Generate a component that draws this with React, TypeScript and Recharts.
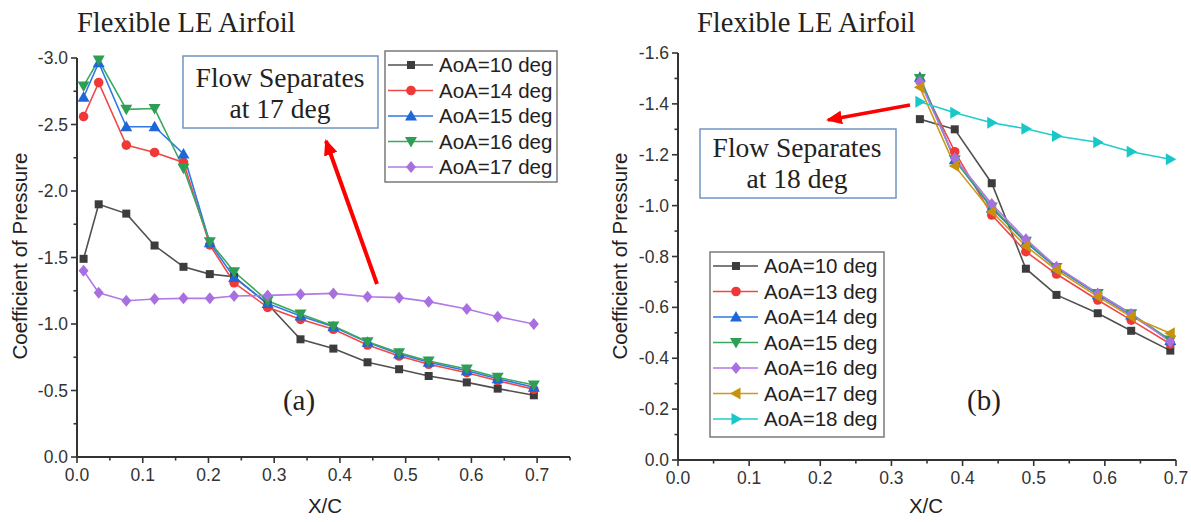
import React from 'react';
import { LineChart, Line, XAxis, YAxis } from 'recharts';

// ---- panel (a) ----
const xLeft = [0.01, 0.033, 0.075, 0.118, 0.162, 0.202, 0.239, 0.29, 0.34, 0.39, 0.442, 0.49, 0.535, 0.593, 0.64, 0.695];
const cpL10 = [-1.49, -1.9, -1.83, -1.59, -1.43, -1.375, -1.355, -1.15, -0.885, -0.815, -0.712, -0.66, -0.609, -0.561, -0.514, -0.464];
const cpL14 = [-2.56, -2.815, -2.345, -2.29, -2.215, -1.595, -1.31, -1.125, -1.035, -0.96, -0.842, -0.759, -0.697, -0.634, -0.574, -0.509];
const cpL15 = [-2.705, -2.965, -2.483, -2.483, -2.278, -1.611, -1.35, -1.155, -1.06, -0.98, -0.862, -0.774, -0.712, -0.649, -0.589, -0.524];
const cpL16 = [-2.79, -2.985, -2.614, -2.62, -2.171, -1.619, -1.393, -1.175, -1.075, -0.985, -0.867, -0.784, -0.722, -0.662, -0.599, -0.541];
const cpL17 = [-1.4, -1.235, -1.175, -1.188, -1.193, -1.193, -1.21, -1.215, -1.223, -1.23, -1.205, -1.198, -1.168, -1.113, -1.055, -1.0];

// ---- panel (b) ----
const xRight = [0.34, 0.389, 0.441, 0.489, 0.532, 0.59, 0.637, 0.692];
const cpR10 = [-1.34, -1.3, -1.088, -0.752, -0.649, -0.577, -0.508, -0.43];
const cpR13 = [-1.49, -1.212, -0.963, -0.819, -0.731, -0.629, -0.55, -0.456];
const cpR14 = [-1.505, -1.18, -0.99, -0.855, -0.755, -0.65, -0.57, -0.47];
const cpR15 = [-1.5, -1.18, -0.995, -0.86, -0.757, -0.655, -0.575, -0.472];
const cpR16 = [-1.487, -1.186, -1.006, -0.868, -0.76, -0.655, -0.574, -0.465];
const cpR17 = [-1.465, -1.156, -0.976, -0.841, -0.747, -0.642, -0.563, -0.498];
const cpR18 = [-1.408, -1.365, -1.326, -1.302, -1.274, -1.249, -1.212, -1.182];

// ticks (majors labelled, the rest are minor ticks)
const xTicksLeft = [0, 0.05, 0.1, 0.15, 0.2, 0.25, 0.3, 0.35, 0.4, 0.45, 0.5, 0.55, 0.6, 0.65, 0.7, 0.75];
const xTicksRight = [0, 0.05, 0.1, 0.15, 0.2, 0.25, 0.3, 0.35, 0.4, 0.45, 0.5, 0.55, 0.6, 0.65, 0.7];
const xMajors = [0, 0.1, 0.2, 0.3, 0.4, 0.5, 0.6, 0.7];
const yTicksLeft = [-3, -2.75, -2.5, -2.25, -2, -1.75, -1.5, -1.25, -1, -0.75, -0.5, -0.25, 0];
const yMajorsLeft = [-3, -2.5, -2, -1.5, -1, -0.5, 0];
const yTicksRight = [-1.6, -1.5, -1.4, -1.3, -1.2, -1.1, -1, -0.9, -0.8, -0.7, -0.6, -0.5, -0.4, -0.3, -0.2, -0.1, 0];
const yMajorsRight = [-1.6, -1.4, -1.2, -1, -0.8, -0.6, -0.4, -0.2, 0];

const seriesLeft = [
  { key: 'a10', name: 'AoA=10 deg', vals: cpL10, color: '#505050', fill: '#3c3c3c', shape: 'square' },
  { key: 'a14', name: 'AoA=14 deg', vals: cpL14, color: '#f04848', fill: '#f03838', shape: 'circle' },
  { key: 'a15', name: 'AoA=15 deg', vals: cpL15, color: '#2f78e6', fill: '#1f66d8', shape: 'up' },
  { key: 'a16', name: 'AoA=16 deg', vals: cpL16, color: '#3aa860', fill: '#2e9e55', shape: 'down' },
  { key: 'a17', name: 'AoA=17 deg', vals: cpL17, color: '#b27ae6', fill: '#a86fe0', shape: 'diamond' },
];

const seriesRight = [
  { key: 'b10', name: 'AoA=10 deg', vals: cpR10, color: '#505050', fill: '#3c3c3c', shape: 'square' },
  { key: 'b13', name: 'AoA=13 deg', vals: cpR13, color: '#f04848', fill: '#f03838', shape: 'circle' },
  { key: 'b14', name: 'AoA=14 deg', vals: cpR14, color: '#2f78e6', fill: '#1f66d8', shape: 'up' },
  { key: 'b15', name: 'AoA=15 deg', vals: cpR15, color: '#3aa860', fill: '#2e9e55', shape: 'down' },
  { key: 'b16', name: 'AoA=16 deg', vals: cpR16, color: '#b27ae6', fill: '#a86fe0', shape: 'diamond' },
  { key: 'b17', name: 'AoA=17 deg', vals: cpR17, color: '#cc9a1a', fill: '#c8920c', shape: 'left' },
  { key: 'b18', name: 'AoA=18 deg', vals: cpR18, color: '#22cccc', fill: '#18c8c8', shape: 'right' },
];

const dataLeft = xLeft.map((x, i) => {
  const row: any = { x };
  seriesLeft.forEach((s) => (row[s.key] = s.vals[i]));
  return row;
});
const dataRight = xRight.map((x, i) => {
  const row: any = { x };
  seriesRight.forEach((s) => (row[s.key] = s.vals[i]));
  return row;
});

const SANS = '"Liberation Sans", Arial, sans-serif';
const SERIF = '"Liberation Serif", "Times New Roman", serif';
const AXIS = '#333';

const Marker = ({ cx, cy, shape, fill }: any) => {
  const s = 5;
  switch (shape) {
    case 'square':
      return <rect x={cx - 4} y={cy - 4} width={8} height={8} fill={fill} />;
    case 'circle':
      return <circle cx={cx} cy={cy} r={4.8} fill={fill} />;
    case 'up':
      return <polygon points={`${cx},${cy - 6} ${cx - 6},${cy + 4.5} ${cx + 6},${cy + 4.5}`} fill={fill} />;
    case 'down':
      return <polygon points={`${cx},${cy + 6} ${cx - 6},${cy - 4.5} ${cx + 6},${cy - 4.5}`} fill={fill} />;
    case 'diamond':
      return <polygon points={`${cx},${cy - 6} ${cx + s},${cy} ${cx},${cy + 6} ${cx - s},${cy}`} fill={fill} />;
    case 'left':
      return <polygon points={`${cx - 6},${cy} ${cx + 4.5},${cy - 6} ${cx + 4.5},${cy + 6}`} fill={fill} />;
    case 'right':
      return <polygon points={`${cx + 6},${cy} ${cx - 4.5},${cy - 6} ${cx - 4.5},${cy + 6}`} fill={fill} />;
    default:
      return null;
  }
};

const makeDot = (shape: string, fill: string) => (p: any) => (
  <Marker key={`dot-${shape}-${p.index}`} cx={p.cx} cy={p.cy} shape={shape} fill={fill} />
);

const isIn = (v: number, list: number[]) => list.some((m) => Math.abs(m - v) < 1e-6);

const makeXTick = (majors: number[]) => (props: any) => {
  const { x, y, payload } = props;
  const major = isIn(payload.value, majors);
  return (
    <g>
      <line x1={x} y1={y} x2={x} y2={y + (major ? 6 : 3.5)} stroke={AXIS} strokeWidth={1.6} />
      {major && (
        <text x={x} y={y + 24} textAnchor="middle" fontSize={17.5} fill="#333" fontFamily={SANS}>
          {payload.value.toFixed(1)}
        </text>
      )}
    </g>
  );
};

const makeYTick = (majors: number[]) => (props: any) => {
  const { x, y, payload } = props;
  const major = isIn(payload.value, majors);
  return (
    <g>
      <line x1={x} y1={y} x2={x - (major ? 6 : 3.5)} y2={y} stroke={AXIS} strokeWidth={1.6} />
      {major && (
        <text x={x - 9} y={y + 6} textAnchor="end" fontSize={17.5} fill="#333" fontFamily={SANS}>
          {payload.value.toFixed(1)}
        </text>
      )}
    </g>
  );
};

const LegendBox = ({ x, y, w, h, series }: any) => (
  <g>
    <rect x={x} y={y} width={w} height={h} fill="#fff" stroke="#7a7a7a" strokeWidth={1.5} />
    {series.map((s: any, i: number) => {
      const cy = y + 14 + i * 25.5;
      return (
        <g key={s.key}>
          <line x1={x + 3} y1={cy} x2={x + 48} y2={cy} stroke={s.color} strokeWidth={1.6} />
          <Marker cx={x + 26} cy={cy} shape={s.shape} fill={s.fill} />
          <text x={x + 54} y={cy + 7} fontSize={20.5} fontFamily={SANS} fill="#222">
            {s.name}
          </text>
        </g>
      );
    })}
  </g>
);

const App: React.FC = () => {
  return (
    <div style={{ position: 'absolute', left: 0, top: 0, width: 1191, height: 522, background: '#fff' }}>
      <div style={{ position: 'absolute', left: 0, top: 0 }}>
        <LineChart width={600} height={522} data={dataLeft} margin={{ top: 58, right: 30, left: 17, bottom: 35 }}>
          <XAxis
            dataKey="x"
            type="number"
            domain={[0, 0.75]}
            ticks={xTicksLeft}
            interval={0}
            tickSize={0}
            tickMargin={0}
            tickLine={false}
            height={30}
            axisLine={{ stroke: AXIS, strokeWidth: 2 }}
            tick={makeXTick(xMajors)}
          />
          <YAxis
            type="number"
            domain={[-3, 0]}
            reversed
            ticks={yTicksLeft}
            interval={0}
            tickSize={0}
            tickMargin={0}
            tickLine={false}
            width={60}
            axisLine={{ stroke: AXIS, strokeWidth: 2 }}
            tick={makeYTick(yMajorsLeft)}
          />
          {seriesLeft.map((s) => (
            <Line
              key={s.key}
              dataKey={s.key}
              name={s.name}
              type="linear"
              stroke={s.color}
              strokeWidth={1.6}
              dot={makeDot(s.shape, s.fill)}
              activeDot={false}
              isAnimationActive={false}
            />
          ))}
        </LineChart>
      </div>
      <div style={{ position: 'absolute', left: 600, top: 0 }}>
        <LineChart width={591} height={522} data={dataRight} margin={{ top: 53, right: 15, left: 18, bottom: 32 }}>
          <XAxis
            dataKey="x"
            type="number"
            domain={[0, 0.7]}
            ticks={xTicksRight}
            interval={0}
            tickSize={0}
            tickMargin={0}
            tickLine={false}
            height={30}
            axisLine={{ stroke: AXIS, strokeWidth: 2 }}
            tick={makeXTick(xMajors)}
          />
          <YAxis
            type="number"
            domain={[-1.6, 0]}
            reversed
            ticks={yTicksRight}
            interval={0}
            tickSize={0}
            tickMargin={0}
            tickLine={false}
            width={60}
            axisLine={{ stroke: AXIS, strokeWidth: 2 }}
            tick={makeYTick(yMajorsRight)}
          />
          {seriesRight.map((s) => (
            <Line
              key={s.key}
              dataKey={s.key}
              name={s.name}
              type="linear"
              stroke={s.color}
              strokeWidth={1.6}
              dot={makeDot(s.shape, s.fill)}
              activeDot={false}
              isAnimationActive={false}
            />
          ))}
        </LineChart>
      </div>

      <svg width={1191} height={522} style={{ position: 'absolute', left: 0, top: 0, pointerEvents: 'none' }}>
        <defs>
          <marker id="arrowHead" markerWidth={16} markerHeight={14} refX={14} refY={7} orient="auto" markerUnits="userSpaceOnUse">
            <polygon points="0,0 16,7 0,14" fill="#ff0000" />
          </marker>
        </defs>

        {/* titles */}
        <text x={77} y={32} fontSize={28.5} fontFamily={SERIF} fill="#222">Flexible LE Airfoil</text>
        <text x={697} y={32} fontSize={28.5} fontFamily={SERIF} fill="#222">Flexible LE Airfoil</text>

        {/* axis titles */}
        <text x={325} y={513} fontSize={20.5} fontFamily={SANS} fill="#222" textAnchor="middle">X/C</text>
        <text x={926} y={513} fontSize={20.5} fontFamily={SANS} fill="#222" textAnchor="middle">X/C</text>
        <text transform="translate(27,256) rotate(-90)" fontSize={20.5} fontFamily={SANS} fill="#222" textAnchor="middle">
          Coefficient of Pressure
        </text>
        <text transform="translate(627,256) rotate(-90)" fontSize={20.5} fontFamily={SANS} fill="#222" textAnchor="middle">
          Coefficient of Pressure
        </text>

        {/* panel labels */}
        <text x={299} y={410} fontSize={29} fontFamily={SERIF} fill="#222" textAnchor="middle">(a)</text>
        <text x={984} y={410} fontSize={29} fontFamily={SERIF} fill="#222" textAnchor="middle">(b)</text>

        {/* annotations */}
        <rect x={183} y={56} width={195} height={72} fill="#fff" stroke="#6f95c4" strokeWidth={1.5} />
        <text x={280} y={87} fontSize={27.5} fontFamily={SERIF} fill="#222" textAnchor="middle">Flow Separates</text>
        <text x={280} y={118} fontSize={27.5} fontFamily={SERIF} fill="#222" textAnchor="middle">at 17 deg</text>
        <line x1={377} y1={284} x2={326} y2={141} stroke="#ff0000" strokeWidth={4} markerEnd="url(#arrowHead)" />

        <rect x={700} y={129} width={196} height={69} fill="#fff" stroke="#6f95c4" strokeWidth={1.5} />
        <text x={797} y={157} fontSize={27.5} fontFamily={SERIF} fill="#222" textAnchor="middle">Flow Separates</text>
        <text x={797} y={188} fontSize={27.5} fontFamily={SERIF} fill="#222" textAnchor="middle">at 18 deg</text>
        <line x1={910} y1={105} x2={828} y2={120} stroke="#ff0000" strokeWidth={3.5} markerEnd="url(#arrowHead)" />

        {/* legends */}
        <LegendBox x={385} y={51} w={172} h={131} series={seriesLeft} />
        <LegendBox x={710} y={252} w={174} h={185} series={seriesRight} />
      </svg>
    </div>
  );
};

export default App;
